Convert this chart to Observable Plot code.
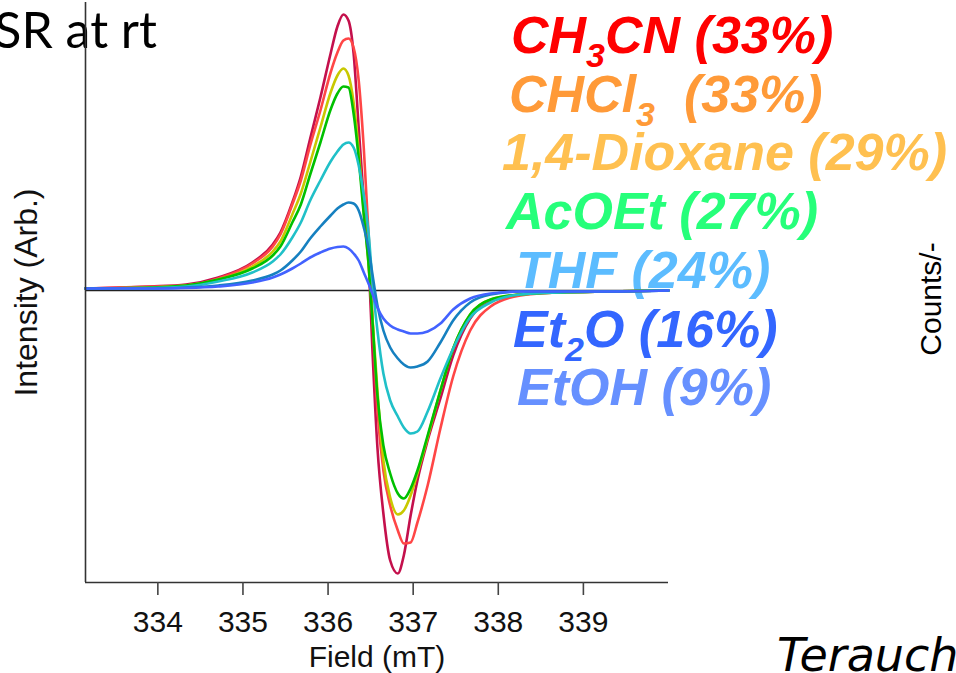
<!DOCTYPE html>
<html>
<head>
<meta charset="utf-8">
<script src="https://cdn.jsdelivr.net/npm/d3@7"></script>
<script src="https://cdn.jsdelivr.net/npm/@observablehq/plot@0.6"></script>
<style>
  html, body { margin: 0; padding: 0; background: #fff; overflow: hidden; }
  #wrap { position: relative; width: 956px; height: 673px; overflow: hidden; }
  #wrap svg { position: absolute; left: 0; top: 0; }
</style>
</head>
<body>
<div id="wrap"></div>
<script>
// ---- data ----
const field = [333.15, 333.91, 334.33, 334.71, 335.11, 335.35, 335.44, 335.58, 335.68, 335.79,
               335.91, 336.03, 336.11, 336.18, 336.24, 336.30, 336.36, 336.42, 336.48, 336.52,
               336.58, 336.65, 336.73, 336.82, 336.89, 336.97, 337.05, 337.17, 337.32, 337.47,
               337.67, 337.91, 338.26, 338.73, 339.32, 340.00];

const ch3cn   = [2, 4, 6, 13, 28, 46, 58, 88, 114, 152, 193, 237, 264, 276, 270, 237, 163, 90, 23, -57,
                 -157, -223, -270, -283, -265, -225, -190, -150, -108, -65, -28, -11, -4, -2, -1, 0];
const chcl3   = [2, 4, 5, 12, 27, 44, 56, 86, 110, 145, 180, 218, 238, 250, 252, 243, 210, 142, 50, -25,
                 -120, -180, -215, -240, -253, -252, -232, -195, -138, -86, -40, -16, -5, -2, -1, 0];
const dioxane = [2, 3, 5, 11, 24, 39, 49, 76, 97, 128, 163, 198, 215, 222, 215, 188, 140, 78, 22, -25,
                 -100, -170, -207, -224, -220, -205, -183, -147, -100, -58, -24, -9, -4, -2, -1, 0];
const acoet   = [2, 3, 5, 11, 22, 35, 44, 68, 86, 116, 148, 181, 197, 204, 203, 177, 132, 75, 22, -28,
                 -105, -155, -183, -203, -208, -198, -180, -145, -100, -58, -24, -9, -4, -2, -1, 0];
const thf     = [2, 2.5, 4, 9, 18, 29, 36, 53, 68, 90, 110, 129, 139, 146, 148, 143, 125, 95, 54, 10,
                 -40, -83, -110, -126, -137, -143, -141, -121, -88, -58, -27, -12, -4, -2, -1, 0];
const et2o    = [2, 2, 3, 5, 10, 16, 20, 30, 39, 52, 64, 75, 82, 86, 88, 87, 80, 63, 40, 17,
                 -15, -40, -57, -68, -74, -77, -76, -71, -52, -30, -12, -4, -1, -1, -1, 0];
const etoh    = [2, 2, 2.5, 4, 8, 13, 16, 22, 27, 33, 38, 42, 43.5, 44, 42, 37, 30, 18, 6, -3,
                 -17, -28, -35, -39, -41, -43, -43, -41, -33, -19, -8, -3, -1, -1, -1, 0];

const solvents   = ["CH3CN", "CHCl3", "1,4-Dioxane", "AcOEt", "THF", "Et2O", "EtOH"];
const lineColors = ["#c4104c", "#ff4646", "#c8c800", "#00c000", "#20c0c8", "#1680c0", "#4262ff"];

const legendLabels = ["CH_3CN (33%)", "CHCl_3  (33%)", "1,4-Dioxane (29%)", "AcOEt (27%)",
                      "THF (24%)", "Et_2O (16%)", "EtOH (9%)"];
const legendColors = ["#ff0000", "#ff9a38", "#ffc050", "#26ff7a", "#5cbcff", "#3366ff", "#6690ff"];
const legendX = [511, 509, 502, 506, 516, 513, 517];

const xTicks  = [334, 335, 336, 337, 338, 339];
const xDomain = [333.15, 340.0];
const yDomain = [-292, 288];

const titleText = "ESR at rt";
const xLabel = "Field (mT)";
const yLabel = "Intensity (Arb.)";
const rightLabel = "Counts/-";
const creditText = "Terauchi";

// ---- build table ----
const valuesBySolvent = [ch3cn, chcl3, dioxane, acoet, thf, et2o, etoh];
const data = solvents.flatMap((s, k) =>
  field.map((f, i) => ({field: f, intensity: valuesBySolvent[k][i], solvent: s})));

const wrap = d3.select("#wrap");

// ---- overlay text layer (behind the plot) ----
const ov = wrap.append("svg").attr("width", 956).attr("height", 673);

ov.append("text")
  .attr("x", 157).attr("y", 48)
  .attr("text-anchor", "end")
  .style("font-family", "Lato, 'Open Sans', sans-serif")
  .style("font-size", "50px")
  .attr("fill", "#000")
  .text(titleText);

legendLabels.forEach((lab, i) => {
  const t = ov.append("text")
    .attr("x", legendX[i])
    .attr("y", 53 + i * 58.7)
    .attr("fill", legendColors[i])
    .style("font-family", "'Liberation Sans', Arial, Helvetica, sans-serif")
    .style("font-weight", "bold")
    .style("font-style", "italic")
    .style("font-size", "52px")
    .style("white-space", "pre");
  const parts = lab.split(/(_\d)/).filter(p => p.length);
  let shift = 0;
  parts.forEach(p => {
    if (p.startsWith("_")) {
      t.append("tspan").attr("dy", 14).style("font-size", "34px").text(p.slice(1));
      shift = -14;
    } else {
      const sp = t.append("tspan").text(p);
      if (shift) { sp.attr("dy", shift); shift = 0; }
    }
  });
});

ov.append("text")
  .attr("transform", "translate(941,299) rotate(-90)")
  .attr("text-anchor", "middle")
  .style("font-family", "'Liberation Sans', Arial, sans-serif")
  .style("font-size", "30px")
  .attr("fill", "#000")
  .text(rightLabel);

ov.append("text")
  .attr("x", 777).attr("y", 671)
  .style("font-family", "'DejaVu Sans', sans-serif")
  .style("font-style", "italic")
  .style("font-weight", "200")
  .style("font-size", "46px")
  .attr("fill", "#000")
  .text(creditText);

// ---- the chart ----
const chart = Plot.plot({
  width: 956,
  height: 673,
  marginLeft: 85,
  marginRight: 288,
  marginTop: 2,
  marginBottom: 91,
  style: {background: "none", fontFamily: "'Liberation Sans', Arial, Helvetica, sans-serif", color: "#111"},
  x: {domain: xDomain},
  y: {domain: yDomain},
  color: {domain: solvents, range: lineColors},
  marks: [
    Plot.ruleY([0], {stroke: "#222", strokeWidth: 1.4}),
    Plot.line(data, {x: "field", y: "intensity", z: "solvent", stroke: "solvent",
                     strokeWidth: 2.6, curve: "monotone-x"}),
    Plot.ruleX([xDomain[0]], {stroke: "#333", strokeWidth: 1.6}),
    Plot.ruleY([yDomain[0]], {stroke: "#333", strokeWidth: 1.6}),
    Plot.axisX({ticks: xTicks, tickFormat: d => String(d), tickSize: 13, tickPadding: 15,
                fontSize: 30, stroke: "#444", strokeWidth: 1.6,
                label: xLabel, labelAnchor: "center", labelOffset: 84, labelArrow: false}),
    Plot.axisY({ticks: [], label: yLabel, labelAnchor: "center", labelOffset: 71,
                fontSize: 32, labelArrow: false})
  ]
});
wrap.node().appendChild(chart);
</script>
</body>
</html>
